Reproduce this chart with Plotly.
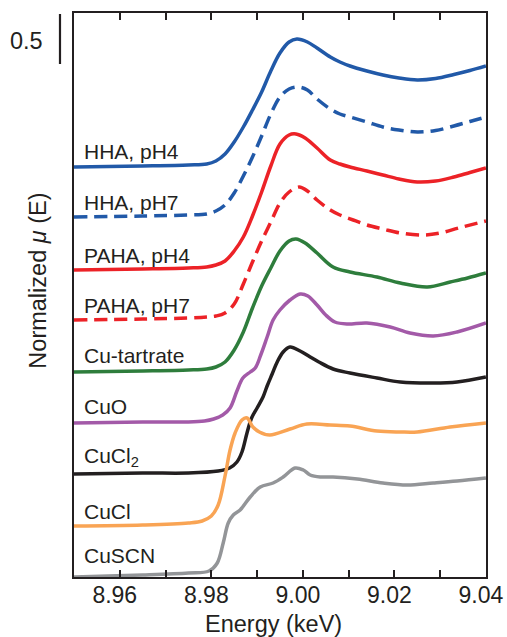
import plotly.graph_objects as go

# ---------------- data ----------------
names = ["HHA, pH4", "HHA, pH7", "PAHA, pH4", "PAHA, pH7", "Cu-tartrate",
         "CuO", "CuCl<sub>2</sub>", "CuCl", "CuSCN"]
offsets = [4.10, 3.60, 3.07, 2.57, 2.05, 1.54, 1.03, 0.51, 0.00]

hha4_E = [8.950, 8.965, 8.975, 8.9790, 8.9810, 8.9830, 8.9850, 8.9870, 8.9890, 8.9910,
          8.9930, 8.9950, 8.9970, 8.9987, 9.0010, 9.0031, 9.0060, 9.0081, 9.0103, 9.0140,
          9.0175, 9.0210, 9.0250, 9.0290, 9.0330, 9.0365, 9.0400]
hha4_mu = [0.00, 0.01, 0.02, 0.03, 0.06, 0.13, 0.25, 0.40, 0.57, 0.75,
           0.96, 1.14, 1.25, 1.28, 1.25, 1.19, 1.10, 1.05, 1.01, 0.96,
           0.92, 0.89, 0.87, 0.885, 0.925, 0.965, 1.01]

hha7_E = [8.950, 8.965, 8.975, 8.9790, 8.9810, 8.9830, 8.9850, 8.9870, 8.9890, 8.9910,
          8.9930, 8.9950, 8.9970, 8.9990, 9.0010, 9.0031, 9.0060, 9.0081, 9.0103, 9.0140,
          9.0175, 9.0210, 9.0250, 9.0290, 9.0330, 9.0365, 9.0400]
hha7_mu = [0.00, 0.01, 0.02, 0.03, 0.06, 0.12, 0.24, 0.41, 0.60, 0.81,
           1.03, 1.20, 1.28, 1.30, 1.27, 1.18, 1.08, 1.03, 1.00, 0.95,
           0.90, 0.87, 0.85, 0.865, 0.91, 0.955, 1.00]

paha4_E = [8.950, 8.965, 8.975, 8.9790, 8.9810, 8.9830, 8.9850, 8.9870, 8.9890, 8.9910,
           8.9930, 8.9950, 8.9970, 8.9985, 9.0005, 9.0031, 9.0060, 9.0081, 9.0103, 9.0140,
           9.0175, 9.0210, 9.0250, 9.0290, 9.0330, 9.0365, 9.0400]
paha4_mu = [0.00, 0.01, 0.02, 0.03, 0.05, 0.09, 0.19, 0.33, 0.54, 0.78,
            1.04, 1.26, 1.35, 1.36, 1.32, 1.22, 1.10, 1.06, 1.03, 0.99,
            0.95, 0.91, 0.88, 0.89, 0.93, 0.975, 1.02]

paha7_E = [8.950, 8.965, 8.975, 8.9790, 8.9810, 8.9830, 8.9850, 8.9870, 8.9890, 8.9910,
           8.9930, 8.9950, 8.9970, 8.9992, 9.0010, 9.0031, 9.0060, 9.0081, 9.0110, 9.0140,
           9.0175, 9.0213, 9.0263, 9.0300, 9.0340, 9.0400]
paha7_mu = [0.00, 0.01, 0.02, 0.03, 0.04, 0.07, 0.16, 0.36, 0.58, 0.79,
            0.98, 1.17, 1.28, 1.33, 1.29, 1.20, 1.10, 1.05, 1.00, 0.95,
            0.91, 0.87, 0.85, 0.87, 0.92, 0.99]

tart_E = [8.950, 8.965, 8.975, 8.9790, 8.9810, 8.9830, 8.9850, 8.9870, 8.9890, 8.9910,
          8.9930, 8.9950, 8.9970, 8.9985, 9.0005, 9.0031, 9.0066, 9.0103, 9.0162, 9.0213,
          9.0272, 9.0322, 9.0360, 9.0400]
tart_mu = [0.00, 0.01, 0.02, 0.03, 0.05, 0.10, 0.22, 0.40, 0.64, 0.86,
           1.04, 1.21, 1.31, 1.33, 1.29, 1.19, 1.05, 1.00, 0.95, 0.89,
           0.85, 0.90, 0.94, 0.99]

cuo_E = [8.950, 8.965, 8.975, 8.9785, 8.9805, 8.9825, 8.9841, 8.9856, 8.9869, 8.9885,
         8.9896, 8.9908, 8.9922, 8.9935, 8.9950, 8.9972, 8.9994, 9.0011, 9.0031, 9.0050,
         9.0070, 9.0097, 9.0140, 9.0191, 9.0234, 9.0285, 9.0337, 9.0400]
cuo_mu = [0.00, 0.01, 0.01, 0.02, 0.04, 0.08, 0.15, 0.32, 0.45, 0.51,
          0.55, 0.68, 0.86, 1.03, 1.13, 1.23, 1.29, 1.27, 1.18, 1.08,
          1.01, 0.99, 1.00, 0.96, 0.90, 0.87, 0.91, 1.00]

cucl2_E = [8.950, 8.965, 8.975, 8.9815, 8.9840, 8.9856, 8.9867, 8.9878, 8.9888, 8.9900,
           8.9913, 8.9922, 8.9933, 8.9944, 8.9957, 8.9972, 8.9994, 9.0016, 9.0035, 9.0066,
           9.0103, 9.0162, 9.0213, 9.0285, 9.0337, 9.0400]
cucl2_mu = [0.00, 0.01, 0.01, 0.03, 0.06, 0.12, 0.22, 0.41, 0.56, 0.66,
            0.77, 0.88, 1.00, 1.12, 1.22, 1.27, 1.23, 1.17, 1.12, 1.05,
            1.01, 0.96, 0.92, 0.91, 0.92, 0.97]

cucl_E = [8.950, 8.965, 8.975, 8.9780, 8.9800, 8.9815, 8.9830, 8.9841, 8.9852, 8.9867,
          8.9878, 8.9891, 8.9905, 8.9928, 8.9972, 9.0009, 9.0060, 9.0103, 9.0162, 9.0213,
          9.0250, 9.0322, 9.0400]
cucl_mu = [0.00, 0.01, 0.03, 0.05, 0.10, 0.21, 0.50, 0.76, 0.93, 1.06,
           1.08, 0.99, 0.94, 0.91, 0.97, 1.02, 1.01, 1.00, 0.95, 0.94,
           0.94, 0.99, 1.03]

cuscn_E = [8.950, 8.965, 8.975, 8.9795, 8.9813, 8.9826, 8.9837, 8.9848, 8.9863, 8.9885,
           8.9907, 8.9935, 8.9957, 8.9983, 9.0001, 9.0016, 9.0038, 9.0066, 9.0119, 9.0175,
           9.0228, 9.0285, 9.0337, 9.0400]
cuscn_mu = [0.00, 0.02, 0.04, 0.06, 0.14, 0.34, 0.54, 0.62, 0.67, 0.80,
            0.90, 0.94, 1.00, 1.09, 1.07, 1.02, 1.00, 1.00, 0.98, 0.94,
            0.92, 0.94, 0.96, 0.99]

energies = [hha4_E, hha7_E, paha4_E, paha7_E, tart_E, cuo_E, cucl2_E, cucl_E, cuscn_E]
spectra = [hha4_mu, hha7_mu, paha4_mu, paha7_mu, tart_mu, cuo_mu, cucl2_mu, cucl_mu, cuscn_mu]

x_ticks = [8.96, 8.98, 9.00, 9.02, 9.04]
x_ticklabels = ["8.96", "8.98", "9.00", "9.02", "9.04"]
scale_bar = 0.5

# ---------------- styles ----------------
colors = ["#2159a8", "#2159a8", "#ec2227", "#ec2227", "#2e7d3c",
          "#a35aa8", "#231f20", "#f9a454", "#939598"]
dashes = ["solid", "13px,7px", "solid", "13px,7px", "solid",
          "solid", "solid", "solid", "solid"]
label_dy = [0.16, 0.15, 0.15, 0.15, 0.17, 0.17, 0.17, 0.15, 0.22]

FONT = "Liberation Sans, Arial, Helvetica, sans-serif"
INK = "#231f20"
YTOP = 5.64

fig = go.Figure()
for E, mu, off, c, d in zip(energies, spectra, offsets, colors, dashes):
    fig.add_trace(go.Scatter(
        x=E, y=[v + off for v in mu], mode="lines",
        line=dict(color=c, width=3.5, dash=d, shape="spline", smoothing=1.0),
        hoverinfo="skip", showlegend=False))

annotations = []
for name, off, dy in zip(names, offsets, label_dy):
    annotations.append(dict(
        x=8.9517, y=off + dy, xref="x", yref="y", text=name, showarrow=False,
        xanchor="left", yanchor="middle", font=dict(family=FONT, size=21, color=INK)))

# scale bar label
annotations.append(dict(
    x=-0.07, y=YTOP - 0.01 - scale_bar / 2 - 0.02, xref="paper", yref="y", text="0.5",
    showarrow=False, xanchor="right", yanchor="middle",
    font=dict(family=FONT, size=23.5, color=INK)))
# y title
annotations.append(dict(
    x=-0.088, y=0.525, xref="paper", yref="paper",
    text="Normalized <i>μ</i> (E)", showarrow=False, textangle=-90,
    xanchor="center", yanchor="middle", font=dict(family=FONT, size=23.5, color=INK)))
# x title
annotations.append(dict(
    x=0.485, y=-0.083, xref="paper", yref="paper", text="Energy (keV)",
    showarrow=False, xanchor="center", yanchor="middle",
    font=dict(family=FONT, size=23.5, color=INK)))

shapes = [dict(type="line", xref="paper", yref="y",
               x0=-0.034, x1=-0.034, y0=YTOP - 0.01, y1=YTOP - 0.01 - scale_bar,
               line=dict(color=INK, width=2.2))]

fig.update_layout(
    width=507, height=637,
    margin=dict(l=74, r=21, t=13, b=60, autoexpand=False),
    paper_bgcolor="white", plot_bgcolor="white",
    annotations=annotations, shapes=shapes,
    xaxis=dict(
        range=[8.95, 9.04002], tickvals=x_ticks, ticktext=x_ticklabels,
        ticks="inside", ticklen=7, tickwidth=1.5, tickcolor=INK,
        minor=dict(dtick=0.01, tick0=8.95, ticks="inside", ticklen=7, tickwidth=1.5, tickcolor=INK),
        showline=True, linecolor=INK, linewidth=2, mirror="ticks",
        showgrid=False, zeroline=False, automargin=False,
        ticklabeloverflow="allow", ticklabelshift=-5,
        tickfont=dict(family=FONT, size=23, color=INK), ticklabelstandoff=-4),
    yaxis=dict(
        range=[0, YTOP], showticklabels=False, ticks="",
        showline=True, linecolor=INK, linewidth=2, mirror=True,
        showgrid=False, zeroline=False, automargin=False),
)

fig.write_html("out.html")
